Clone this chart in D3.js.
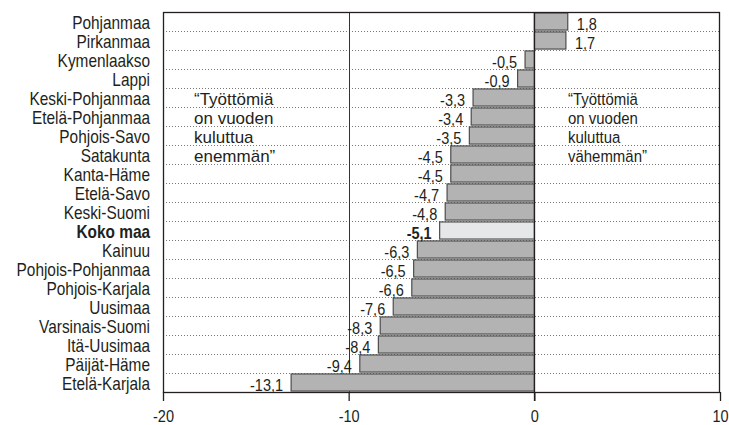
<!DOCTYPE html>
<html>
<head>
<meta charset="utf-8">
<script src="https://cdn.jsdelivr.net/npm/d3@7"></script>
<style>
  body { margin: 0; background: #fff; }
  svg text { fill: #231f20; font-family: "Liberation Sans", Arial, sans-serif; }
</style>
</head>
<body>
<div id="chart"></div>
<script>
// Data
const regions = [
  "Pohjanmaa", "Pirkanmaa", "Kymenlaakso", "Lappi", "Keski-Pohjanmaa",
  "Etelä-Pohjanmaa", "Pohjois-Savo", "Satakunta", "Kanta-Häme", "Etelä-Savo",
  "Keski-Suomi", "Koko maa", "Kainuu", "Pohjois-Pohjanmaa", "Pohjois-Karjala",
  "Uusimaa", "Varsinais-Suomi", "Itä-Uusimaa", "Päijät-Häme", "Etelä-Karjala"
];
const change = [
  1.8, 1.7, -0.5, -0.9, -3.3,
  -3.4, -3.5, -4.5, -4.5, -4.7,
  -4.8, -5.1, -6.3, -6.5, -6.6,
  -7.6, -8.3, -8.4, -9.4, -13.1
];
const xTicks = [-20, -10, 0, 10];
const TOTAL = "Koko maa";
const noteLeft = ["“Työttömiä", "on vuoden", "kuluttua", "enemmän”"];
const noteRight = ["“Työttömiä", "on vuoden", "kuluttua", "vähemmän”"];

const data = regions.map((r, i) => ({ name: r, value: change[i] }));

// Sizes
const W = 729, H = 425;
const plot = { left: 163, right: 720, top: 12, bottom: 392 };
const NARROW = 0.88; // horizontal squeeze to mimic a condensed face

const svg = d3.select("#chart").append("svg")
  .attr("width", W)
  .attr("height", H);

const x = d3.scaleLinear().domain([-20, 10]).range([plot.left, plot.right]);
const y = d3.scaleBand().domain(regions).range([plot.top, plot.bottom]).paddingInner(0.1).paddingOuter(0.05);
const step = y.step();
const rowTop = (d) => plot.top + regions.indexOf(d) * step;

const fmt = (v) => d3.format(".1f")(v).replace(".", ",").replace("−", "-");
const squeeze = (px, py) => "translate(" + px + "," + py + ") scale(" + NARROW + ",1)";

// Dotted row separators
svg.append("g")
  .selectAll("line")
  .data(regions.slice(1))
  .enter()
  .append("line")
  .attr("x1", plot.left)
  .attr("x2", plot.right)
  .attr("y1", (d) => Math.round(rowTop(d)) + 0.5)
  .attr("y2", (d) => Math.round(rowTop(d)) + 0.5)
  .attr("stroke", "#777")
  .attr("stroke-width", 1)
  .attr("stroke-dasharray", "1,2");

// -10 reference line
svg.append("line")
  .attr("x1", Math.round(x(-10)) + 0.5)
  .attr("x2", Math.round(x(-10)) + 0.5)
  .attr("y1", plot.top)
  .attr("y2", plot.bottom)
  .attr("stroke", "#333")
  .attr("stroke-width", 1);

// Annotations
svg.append("g")
  .style("font-size", "17px")
  .selectAll("text")
  .data(noteLeft)
  .enter()
  .append("text")
  .attr("x", 194)
  .attr("y", (d, i) => rowTop(regions[4 + i]) + step - 2)
  .text((d) => d);

svg.append("g")
  .style("font-size", "17px")
  .selectAll("text")
  .data(noteRight)
  .enter()
  .append("text")
  .attr("transform", (d, i) => squeeze(568, rowTop(regions[4 + i]) + step - 2))
  .text((d) => d);

// Bars
svg.append("g")
  .selectAll("rect")
  .data(data)
  .enter()
  .append("rect")
  .attr("x", (d) => x(Math.min(0, d.value)))
  .attr("y", (d) => y(d.name))
  .attr("width", (d) => Math.abs(x(d.value) - x(0)))
  .attr("height", y.bandwidth())
  .attr("fill", (d) => (d.name === TOTAL ? "#e6e7e8" : "#b3b3b3"))
  .attr("stroke", "#4d4d4d")
  .attr("stroke-width", 1.2);

// Value labels
svg.append("g")
  .style("font-size", "16.5px")
  .selectAll("text")
  .data(data)
  .enter()
  .append("text")
  .attr("transform", (d) =>
    squeeze(d.value < 0 ? x(d.value) - 8 : x(d.value) + 9, rowTop(d.name) + step - 1.5))
  .attr("text-anchor", (d) => (d.value < 0 ? "end" : "start"))
  .style("font-weight", (d) => (d.name === TOTAL ? "bold" : "normal"))
  .text((d) => fmt(d.value));

// Zero line
svg.append("line")
  .attr("x1", Math.round(x(0)) + 0.5)
  .attr("x2", Math.round(x(0)) + 0.5)
  .attr("y1", plot.top)
  .attr("y2", plot.bottom + 9)
  .attr("stroke", "#231f20")
  .attr("stroke-width", 1.3);

// Plot frame
svg.append("rect")
  .attr("x", plot.left + 0.5)
  .attr("y", plot.top + 0.5)
  .attr("width", plot.right - plot.left - 1)
  .attr("height", plot.bottom - plot.top)
  .attr("fill", "none")
  .attr("stroke", "#231f20")
  .attr("stroke-width", 1.3);

// Category labels
svg.append("g")
  .style("font-size", "17.5px")
  .selectAll("text")
  .data(regions)
  .enter()
  .append("text")
  .attr("transform", (d) => squeeze(150, rowTop(d) + step - 2.5))
  .attr("text-anchor", "end")
  .style("font-weight", (d) => (d === TOTAL ? "bold" : "normal"))
  .text((d) => d);

// X axis
const xAxis = svg.append("g")
  .attr("transform", "translate(0," + plot.bottom + ")")
  .call(d3.axisBottom(x).tickValues(xTicks).tickSize(9).tickFormat((d) => String(d).replace("−", "-")));

xAxis.select(".domain").remove();
xAxis.selectAll(".tick line").attr("stroke", "#231f20").attr("stroke-width", 1.3);
xAxis.selectAll(".tick text")
  .attr("y", 0)
  .attr("dy", 0)
  .attr("transform", "translate(0,30) scale(" + NARROW + ",1)")
  .style("font-size", "16.5px")
  .style("font-family", "\"Liberation Sans\", Arial, sans-serif")
  .attr("fill", "#231f20");
</script>
</body>
</html>
